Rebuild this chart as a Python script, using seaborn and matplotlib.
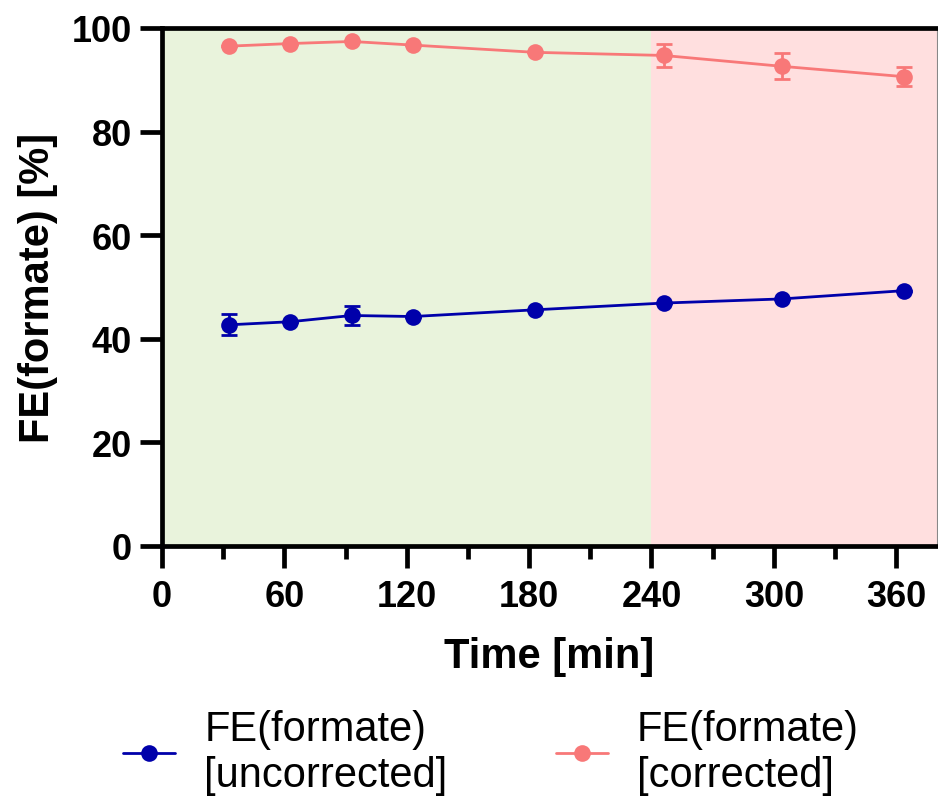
import matplotlib
matplotlib.use("Agg")
import matplotlib.pyplot as plt
from matplotlib.ticker import MultipleLocator
import pandas as pd
import seaborn as sns

# Sampling times [min]
time_min = [33, 63, 93, 123, 183, 246, 304, 364]

# Faradaic efficiency towards formate [%]
fe_uncorrected = [42.7, 43.3, 44.5, 44.3, 45.6, 46.9, 47.7, 49.3]
fe_uncorrected_err = [2.0, 0.0, 1.85, 0.0, 0.0, 0.0, 0.0, 0.0]
fe_corrected = [96.5, 97.0, 97.4, 96.7, 95.3, 94.7, 92.6, 90.6]
fe_corrected_err = [0.0, 0.0, 0.0, 0.0, 0.0, 2.2, 2.5, 1.8]

series_labels = ["FE(formate)\n[uncorrected]", "FE(formate)\n[corrected]"]
series_colors = ["#0000AA", "#F87878"]

x_ticks = [0, 60, 120, 180, 240, 300, 360]
y_ticks = [0, 20, 40, 60, 80, 100]

# Operating windows shaded behind the data
phase_edges = [0, 240, 380]
phase_colors = ["#E9F3DC", "#FFDFDF"]

sns.set_theme(style="white")
plt.rcParams["font.family"] = ["Liberation Sans", "DejaVu Sans"]
plt.rcParams["text.color"] = "black"
plt.rcParams["axes.labelcolor"] = "black"
plt.rcParams["xtick.color"] = "black"
plt.rcParams["ytick.color"] = "black"

df = pd.concat([
    pd.DataFrame({"time": time_min, "fe": fe_uncorrected,
                  "err": fe_uncorrected_err, "series": series_labels[0]}),
    pd.DataFrame({"time": time_min, "fe": fe_corrected,
                  "err": fe_corrected_err, "series": series_labels[1]}),
], ignore_index=True)

fig = plt.figure(figsize=(9.38, 8.03), dpi=100)
ax = fig.add_axes([162 / 938, 1 - 547 / 803, (937 - 162) / 938, (547 - 29) / 803])

for i, c in enumerate(phase_colors):
    ax.axvspan(phase_edges[i], phase_edges[i + 1], color=c, lw=0, zorder=0)

palette = dict(zip(series_labels, series_colors))
for lab in series_labels:
    sub = df[df["series"] == lab]
    ax.errorbar(sub["time"], sub["fe"], yerr=sub["err"], fmt="none",
                ecolor=palette[lab], elinewidth=2.0, capsize=5.8,
                capthick=2.0, zorder=2)

sns.lineplot(data=df, x="time", y="fe", hue="series", palette=palette,
             hue_order=series_labels, marker="o", markersize=12,
             markeredgewidth=0, linewidth=2.0, ax=ax, zorder=3,
             legend=True)

ax.set_xlim(0, 380)
ax.set_ylim(0, 100)
ax.set_xticks(x_ticks)
ax.set_yticks(y_ticks)
ax.xaxis.set_minor_locator(MultipleLocator(30))

ax.set_xlabel("Time [min]", fontsize=30, fontweight="bold", labelpad=16)
ax.set_ylabel("FE(formate) [%]", fontsize=30, fontweight="bold", labelpad=10)

ax.tick_params(axis="both", which="major", direction="out", length=15.5,
               width=3.4, labelsize=26, color="black", labelcolor="black",
               pad=8, bottom=True, left=True)
ax.tick_params(axis="y", which="major", pad=6)
ax.tick_params(axis="x", which="minor", direction="out", length=9,
               width=3.4, color="black", bottom=True)
for lbl in ax.get_xticklabels() + ax.get_yticklabels():
    lbl.set_fontweight("bold")

for side in ["left", "bottom", "top"]:
    ax.spines[side].set_visible(True)
    ax.spines[side].set_color("black")
    ax.spines[side].set_linewidth(3.4)
ax.spines["right"].set_color("#888888")
ax.spines["right"].set_linewidth(0.8)
ax.grid(False)

handles, labels = ax.get_legend_handles_labels()
ax.get_legend().remove()
leg = fig.legend(handles, labels, loc="upper left",
                 bbox_to_anchor=(123 / 938, 1 - 710 / 803), ncol=2,
                 frameon=False, fontsize=30, handlelength=1.25,
                 handletextpad=0.7, columnspacing=2.6, borderpad=0,
                 borderaxespad=0, labelspacing=0.3)
for t in leg.get_texts():
    t.set_color("black")

fig.savefig("out.png", dpi=100)
